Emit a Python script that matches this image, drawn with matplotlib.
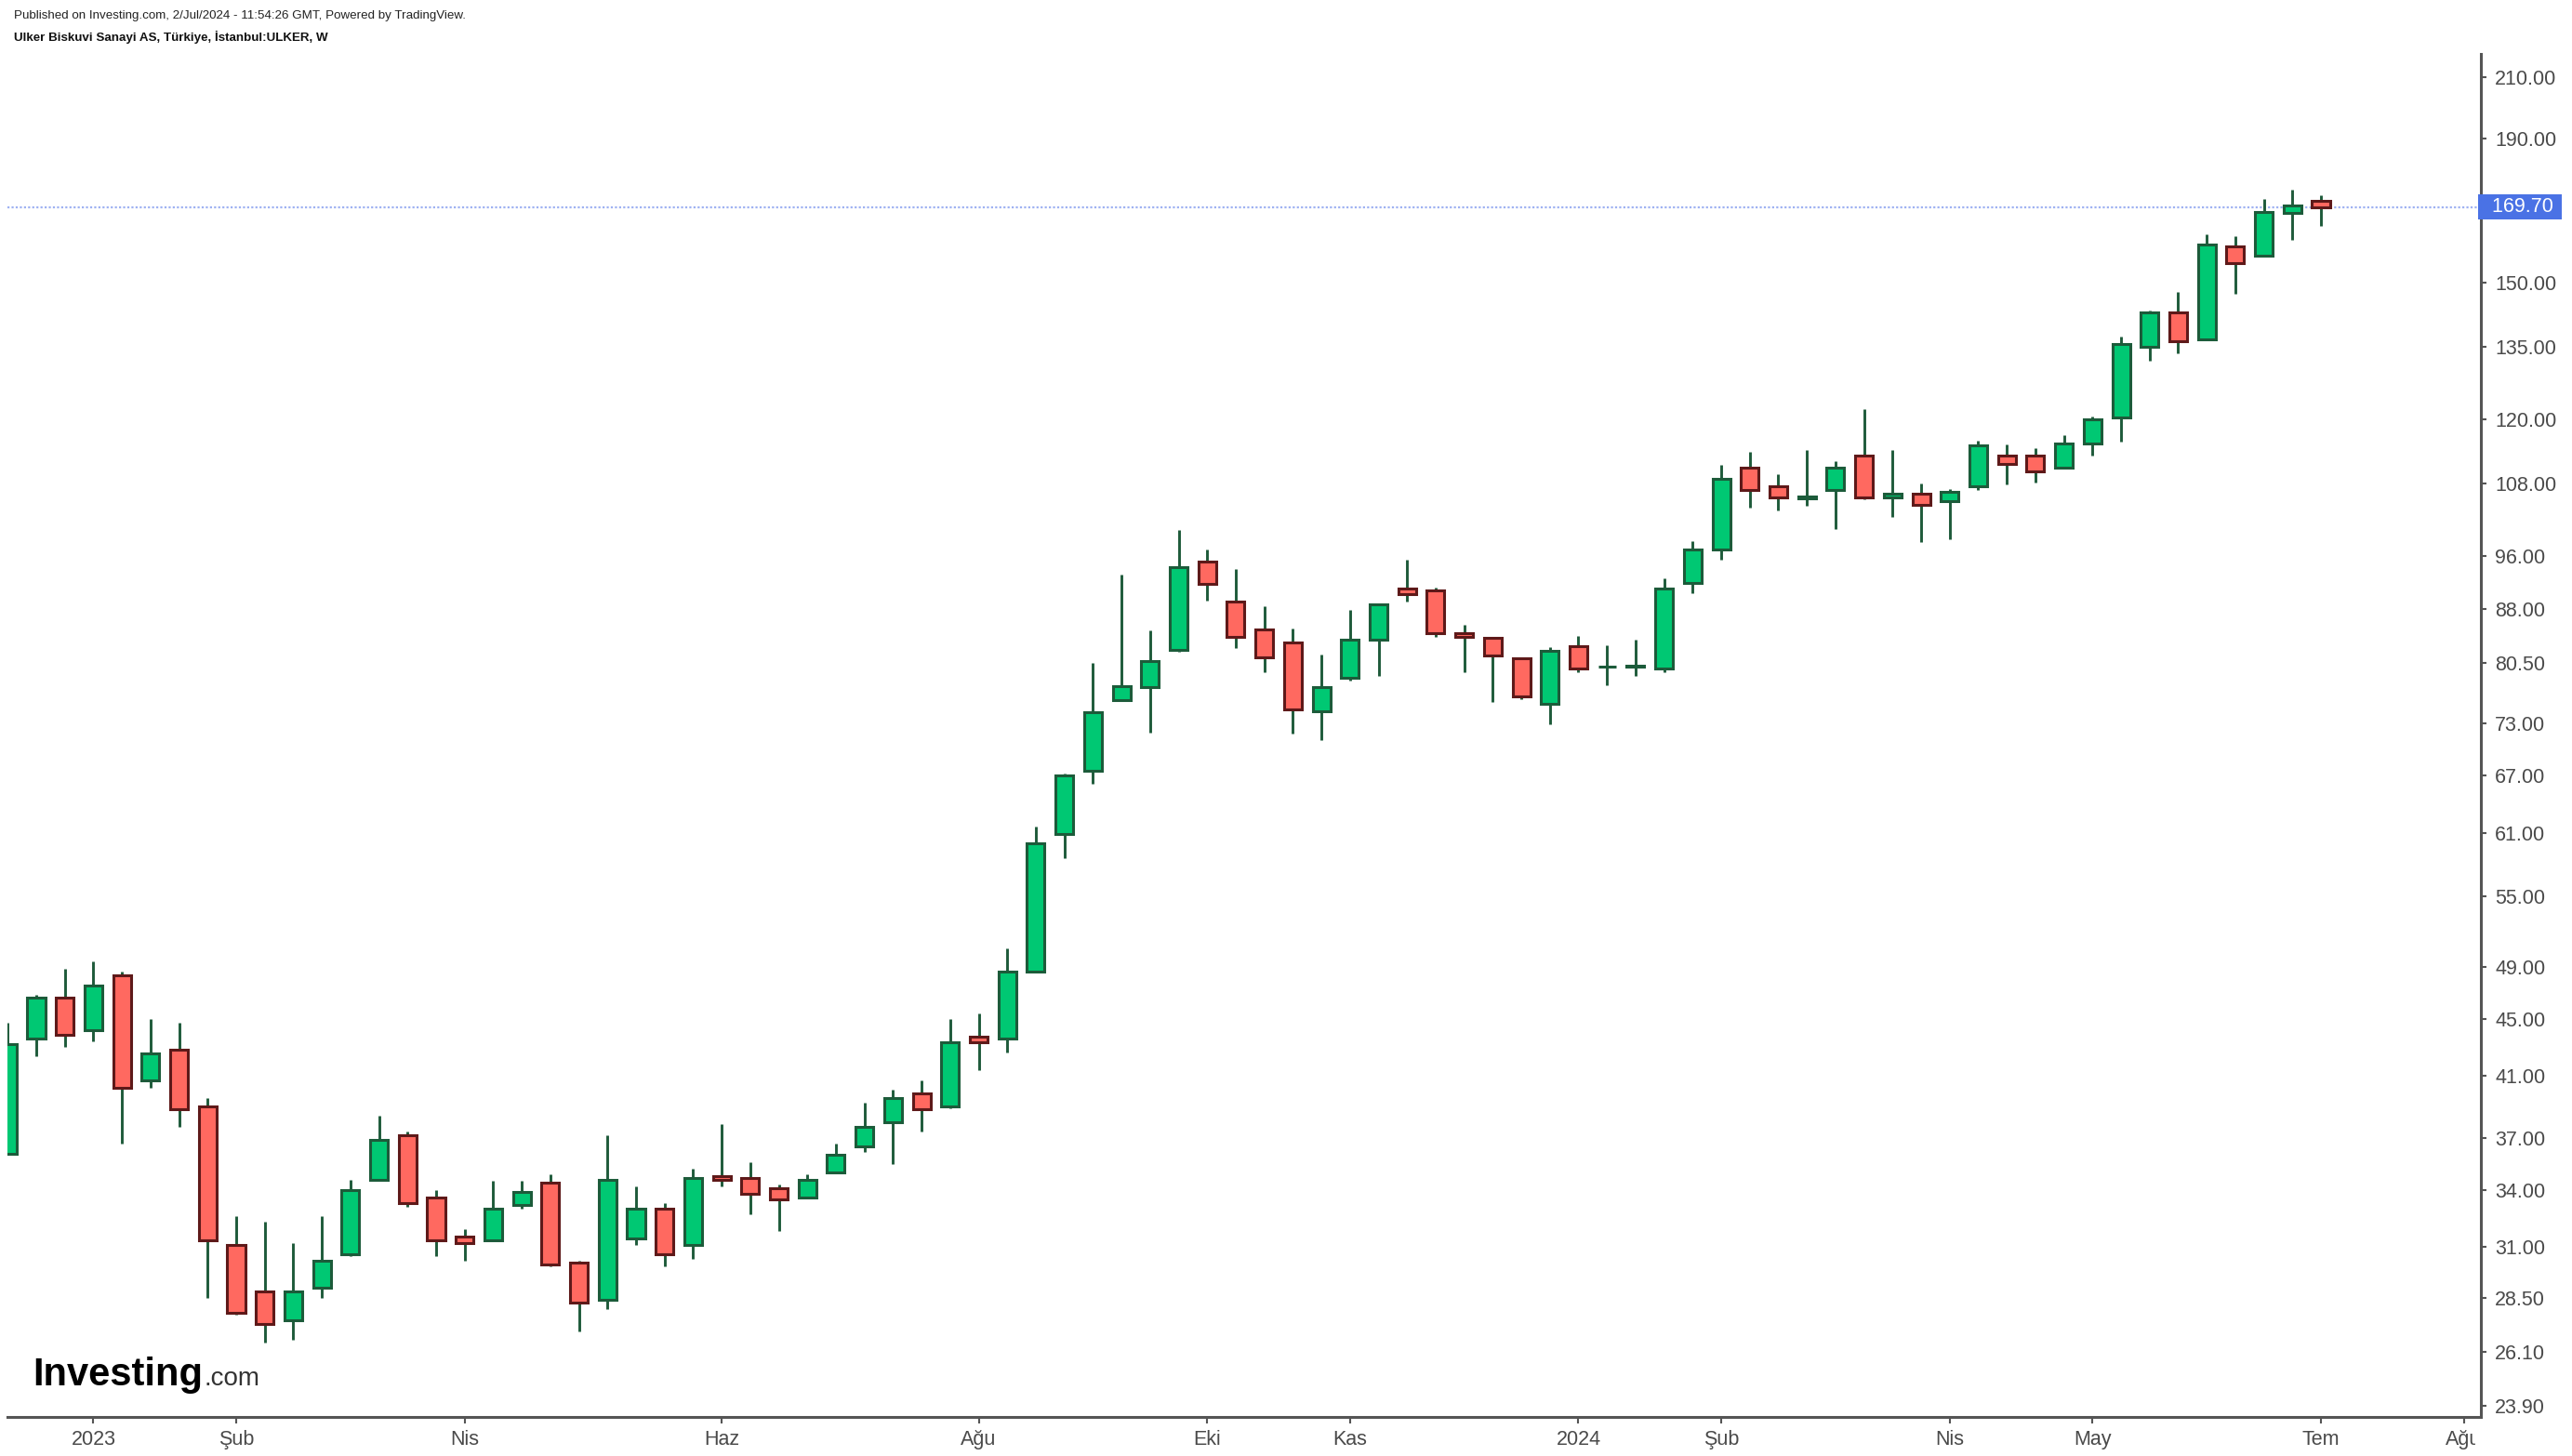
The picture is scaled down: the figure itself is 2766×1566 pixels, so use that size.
import matplotlib
matplotlib.use('Agg')
import matplotlib.pyplot as plt
import matplotlib.transforms as mtransforms
from matplotlib.patches import Rectangle
from matplotlib.ticker import FixedLocator, NullLocator, FormatStrFormatter
import numpy as np
import pandas as pd

plt.rcParams['font.family'] = ['Liberation Sans', 'DejaVu Sans']

# Weekly candles ULKER, first week starts Monday 2022-12-12
first_week = '2022-12-12'

opens = [36.1, 43.6, 46.6, 44.2, 48.3, 40.7, 42.8, 39.0, 31.1, 28.8,
         27.5, 29.0, 30.6, 34.6, 37.2, 33.6, 31.5, 31.3, 33.2, 34.4,
         30.2, 28.4, 31.4, 33.0, 31.1, 34.8, 34.7, 34.1, 33.6, 35.0,
         36.5, 38.0, 39.8, 39.0, 43.7, 43.6, 48.6, 60.9, 67.5, 75.8,
         77.4, 82.3, 95.0, 89.1, 85.1, 83.3, 74.4, 78.6, 83.6, 91.0,
         90.7, 84.6, 83.9, 81.1, 75.3, 82.8, 80.0, 80.1, 79.8, 91.8,
         97.0, 110.9, 107.6, 105.4, 106.9, 113.0, 105.6, 106.3, 105.0, 107.5,
         113.0, 113.0, 110.8, 115.3, 120.3, 135.1, 142.8, 136.7, 159.3, 156.8,
         168.2, 171.4]
highs = [44.7, 46.8, 48.8, 49.4, 48.6, 45.0, 44.7, 39.5, 32.6, 32.3,
         31.2, 32.6, 34.6, 38.4, 37.4, 34.0, 31.9, 34.5, 34.5, 34.9,
         30.3, 37.2, 34.2, 33.3, 35.2, 37.9, 35.6, 34.3, 34.9, 36.7,
         39.2, 40.1, 40.7, 45.0, 45.4, 50.5, 61.6, 67.2, 80.6, 93.0,
         84.9, 100.1, 96.9, 93.9, 88.4, 85.2, 81.7, 87.8, 88.6, 95.4,
         91.1, 85.7, 83.9, 81.1, 82.7, 84.2, 82.9, 83.7, 92.5, 98.3,
         111.4, 113.8, 109.7, 114.1, 112.1, 122.0, 114.1, 108.0, 107.0, 115.9,
         115.1, 114.5, 116.9, 120.5, 137.4, 143.4, 147.8, 162.4, 161.9, 172.1,
         174.7, 173.1]
lows = [36.0, 42.3, 43.0, 43.4, 36.7, 40.2, 37.7, 28.5, 27.75, 26.5,
        26.6, 28.5, 30.5, 34.6, 33.1, 30.5, 30.3, 31.3, 33.0, 30.0,
        27.0, 28.0, 31.1, 30.0, 30.4, 34.2, 32.7, 31.8, 33.6, 35.0,
        36.2, 35.5, 37.4, 38.9, 41.4, 42.6, 48.6, 58.5, 66.1, 75.8,
        71.9, 82.0, 89.2, 82.5, 79.3, 71.7, 71.0, 78.2, 78.8, 89.0,
        84.0, 79.3, 75.5, 75.9, 72.8, 79.3, 77.6, 78.8, 79.3, 90.3,
        95.4, 103.9, 103.3, 104.2, 100.2, 105.2, 102.3, 98.1, 98.6, 106.8,
        107.8, 108.1, 110.8, 113.1, 115.6, 132.1, 133.7, 136.7, 147.3, 156.8,
        160.9, 164.6]
closes = [43.2, 46.6, 43.8, 47.5, 40.2, 42.5, 38.8, 31.3, 27.8, 27.3,
          28.8, 30.3, 34.0, 36.9, 33.3, 31.3, 31.2, 33.0, 33.9, 30.1,
          28.3, 34.6, 33.0, 30.6, 34.7, 34.6, 33.8, 33.5, 34.6, 36.0,
          37.7, 39.5, 38.8, 43.3, 43.3, 48.6, 60.0, 67.0, 74.3, 77.5,
          80.8, 94.2, 91.6, 84.0, 81.3, 74.6, 77.4, 83.6, 88.6, 90.2,
          84.6, 84.0, 81.5, 76.2, 82.1, 79.8, 80.1, 80.2, 91.0, 97.0,
          108.9, 106.9, 105.6, 105.8, 110.9, 105.6, 106.3, 104.3, 106.6, 115.0,
          111.5, 110.2, 115.4, 120.0, 135.6, 142.8, 136.3, 159.8, 154.9, 168.3,
          170.3, 169.7]

tick_dates = ['2023-01-02', '2023-02-06', '2023-04-03', '2023-06-05', '2023-08-07',
              '2023-10-02', '2023-11-06', '2024-01-01', '2024-02-05', '2024-04-01',
              '2024-05-06', '2024-07-01', '2024-08-05']
tick_labels = ['2023', 'Şub', 'Nis', 'Haz', 'Ağu', 'Eki', 'Kas', '2024', 'Şub',
               'Nis', 'May', 'Tem', 'Ağu']

price_ticks = [23.9, 26.1, 28.5, 31.0, 34.0, 37.0, 41.0, 45.0, 49.0, 55.0, 61.0,
               67.0, 73.0, 80.5, 88.0, 96.0, 108.0, 120.0, 135.0, 150.0, 190.0, 210.0]

header = 'Published on Investing.com, 2/Jul/2024 - 11:54:26 GMT, Powered by TradingView.'
subtitle = 'Ulker Biskuvi Sanayi AS, Türkiye, İstanbul:ULKER, W'

# colours
up_fill = '#00C873'
up_edge = '#1C5B3A'
down_fill = '#FF6960'
down_edge = '#5E1919'
wick_col = '#1E5A3A'
axis_col = '#555555'
text_col = '#4a4a4a'

o = np.array(opens)
h = np.array(highs)
l = np.array(lows)
c = np.array(closes)
dates = pd.date_range(first_week, periods=len(c), freq='W-MON')
x = np.arange(len(c))
tick_pos = (pd.to_datetime(tick_dates) - dates[0]).days / 7

W, H = 2766, 1566
fig = plt.figure(figsize=(W / 100, H / 100), dpi=100)
ax = fig.add_axes([8 / W, 42 / H, (2668 - 8) / W, (1524 - 58) / H])

up = c >= o
ax.vlines(x, l, h, colors=wick_col, linewidth=2.1, zorder=1)
ax.bar(x[up], (c - o)[up], bottom=o[up], width=0.62, color=up_fill,
       edgecolor=up_edge, linewidth=2.2, zorder=2)
ax.bar(x[~up], (o - c)[~up], bottom=c[~up], width=0.62, color=down_fill,
       edgecolor=down_edge, linewidth=2.2, zorder=2)

# last price line + label
last = c[-1]
ax.axhline(last, color='#9FB2F2', linewidth=1.6, linestyle=(0, (1, 1)), zorder=0)
trans = mtransforms.blended_transform_factory(ax.transAxes, ax.transData)
ax.text(1.0, last, '  169.70 ', transform=trans, ha='left', va='center',
        color='white', fontsize=15.5, clip_on=False, zorder=5,
        bbox=dict(boxstyle='square,pad=0.14', fc='#4A72E5', ec='none'))

ax.set_yscale('log')
ax.set_ylim(23.46, 218.1)
ax.set_xlim(-0.01, 86.6)

ax.yaxis.tick_right()
ax.yaxis.set_major_locator(FixedLocator(price_ticks))
ax.yaxis.set_minor_locator(NullLocator())
ax.yaxis.set_major_formatter(FormatStrFormatter('%.2f'))
ax.set_xticks(tick_pos)
ax.set_xticklabels(tick_labels)

for s in ['left', 'top']:
    ax.spines[s].set_visible(False)
for s in ['right', 'bottom']:
    ax.spines[s].set_color(axis_col)
    ax.spines[s].set_linewidth(2.2)

ax.tick_params(axis='y', which='both', direction='out', length=4, width=1.5,
               colors=axis_col, labelcolor=text_col, labelsize=15.5, pad=7)
ax.tick_params(axis='x', direction='out', length=5, width=1.5,
               colors=axis_col, labelcolor=text_col, labelsize=15.5, pad=5)

# the last month label is cut off by the price scale
fig.patches.append(Rectangle((2662 / W, 0), 1, 40 / H, transform=fig.transFigure,
                             facecolor='white', edgecolor='none', zorder=10))

fig.text(15 / W, 1 - 17 / H, header, fontsize=9.6, color='#222222', va='center', ha='left')
fig.text(15 / W, 1 - 40 / H, subtitle, fontsize=9.6, color='#111111', va='center',
         ha='left', fontweight='bold')

# logo
logo = fig.text(35 / W, 76 / H, 'Investing', fontsize=30, fontweight='bold',
                color='black', ha='left', va='baseline')
renderer = fig.canvas.get_renderer()
ext = logo.get_window_extent(renderer)
fig.text((ext.x1 + 1) / W, 76 / H, '.com', fontsize=20, color='#333333',
         ha='left', va='baseline')

fig.savefig('out.png', dpi=100, facecolor='white')
